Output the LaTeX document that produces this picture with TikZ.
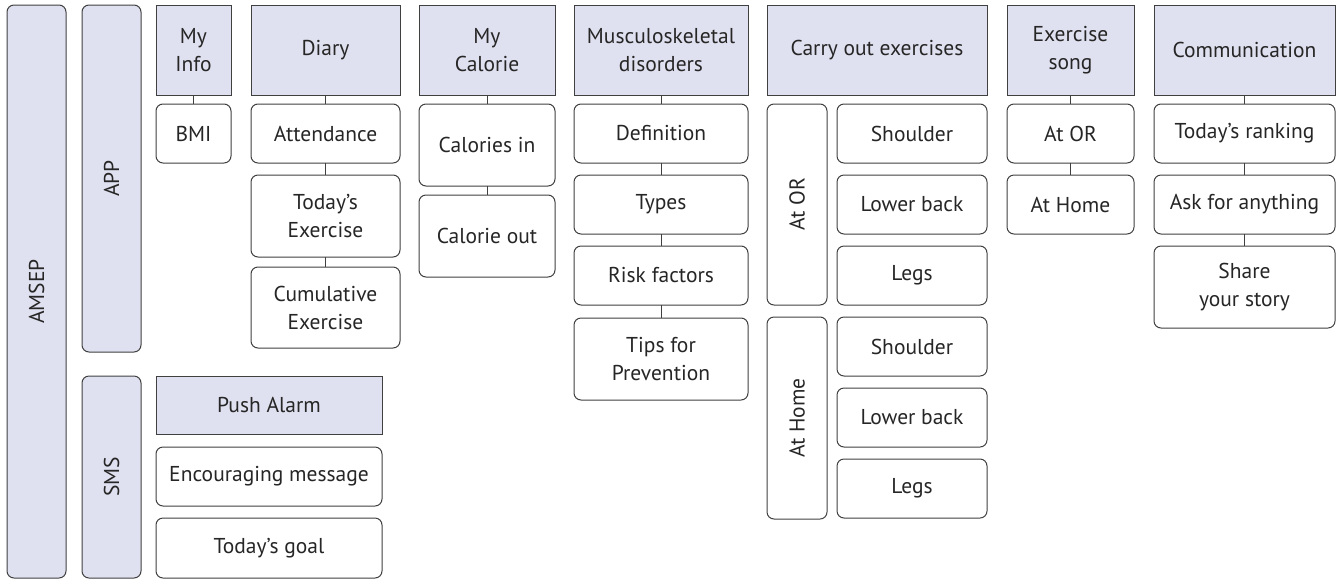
\documentclass[tikz,border=0pt]{standalone}
\usepackage{fontspec}
\setmainfont{PT Sans}
\definecolor{hdrfill}{HTML}{E0E1F0}
\definecolor{edgegray}{HTML}{404040}
\tikzset{
  base/.style={draw=edgegray,line width=1pt,inner sep=0pt,outer sep=0pt,align=center,
    font=\fontsize{21.5}{28}\selectfont,text=black!85},
  hdr/.style={base,rectangle,fill=hdrfill},
  leaf/.style={base,rectangle,rounded corners=7pt,fill=white},
  side/.style={base,rectangle,rounded corners=7pt,rotate=90},
  link/.style={draw=edgegray,line width=1pt}
}
\begin{document}
\begin{tikzpicture}[x=1pt,y=-1pt]
  \useasboundingbox (0,0) rectangle (1338,579);
  % left bars
  \node[side,fill=hdrfill,minimum width=573pt,minimum height=59pt] (amsep) at (36.5,291.5) {AMSEP};
  \node[side,fill=hdrfill,minimum width=347pt,minimum height=59pt] (app) at (111.5,178.5) {APP};
  \node[side,fill=hdrfill,minimum width=202pt,minimum height=59pt] (sms) at (111.5,477) {SMS};
  % My Info
  \node[hdr,minimum width=75pt,minimum height=90pt] (info) at (193.5,50) {My\\Info};
  \node[leaf,minimum width=75pt,minimum height=59pt] (bmi) at (193.5,133.5) {BMI};
  % Diary
  \node[hdr,minimum width=149pt,minimum height=90pt] (diary) at (325.5,50) {Diary};
  \node[leaf,minimum width=149pt,minimum height=59pt] (attend) at (325.5,133.5) {Attendance};
  \node[leaf,minimum width=149pt,minimum height=82pt] (todayex) at (325.5,216) {Today's\\Exercise};
  \node[leaf,minimum width=149pt,minimum height=81pt] (cumul) at (325.5,307.5) {Cumulative\\Exercise};
  % My Calorie
  \node[hdr,minimum width=136pt,minimum height=90pt] (calorie) at (487,50) {My\\Calorie};
  \node[leaf,minimum width=136pt,minimum height=82pt] (calin) at (487,145) {Calories in};
  \node[leaf,minimum width=136pt,minimum height=82pt] (calout) at (487,236) {Calorie out};
  % Musculoskeletal disorders
  \node[hdr,minimum width=174pt,minimum height=90pt] (msd) at (661,50) {Musculoskeletal\\disorders};
  \node[leaf,minimum width=174pt,minimum height=59pt] (defn) at (661,133.5) {Definition};
  \node[leaf,minimum width=174pt,minimum height=59pt] (types) at (661,204.5) {Types};
  \node[leaf,minimum width=174pt,minimum height=59pt] (risk) at (661,275.5) {Risk factors};
  \node[leaf,minimum width=174pt,minimum height=82pt] (tips) at (661,359) {Tips for\\Prevention};
  % Carry out exercises
  \node[hdr,minimum width=220pt,minimum height=90pt] (carry) at (877,50) {Carry out exercises};
  \node[side,minimum width=201pt,minimum height=60pt] (cor) at (797,204.5) {At OR};
  \node[side,minimum width=202pt,minimum height=60pt] (chome) at (797,418) {At Home};
  \node[leaf,minimum width=150pt,minimum height=59pt] (orsh) at (912,133.5) {Shoulder};
  \node[leaf,minimum width=150pt,minimum height=59pt] (orlb) at (912,204.5) {Lower back};
  \node[leaf,minimum width=150pt,minimum height=59pt] (orlg) at (912,275.5) {Legs};
  \node[leaf,minimum width=150pt,minimum height=59pt] (hmsh) at (912,346.5) {Shoulder};
  \node[leaf,minimum width=150pt,minimum height=59pt] (hmlb) at (912,417.5) {Lower back};
  \node[leaf,minimum width=150pt,minimum height=59pt] (hmlg) at (912,488.5) {Legs};
  % Exercise song
  \node[hdr,minimum width=127pt,minimum height=90pt] (song) at (1070.5,50) {Exercise\\song};
  \node[leaf,minimum width=127pt,minimum height=59pt] (songor) at (1070.5,133.5) {At OR};
  \node[leaf,minimum width=127pt,minimum height=59pt] (songhm) at (1070.5,204.5) {At Home};
  % Communication
  \node[hdr,minimum width=181pt,minimum height=90pt] (comm) at (1244.5,50) {Communication};
  \node[leaf,minimum width=181pt,minimum height=59pt] (rank) at (1244.5,133.5) {Today's ranking};
  \node[leaf,minimum width=181pt,minimum height=59pt] (ask) at (1244.5,204.5) {Ask for anything};
  \node[leaf,minimum width=181pt,minimum height=82pt] (story) at (1244.5,287) {Share\\your story};
  % SMS
  \node[hdr,minimum width=226pt,minimum height=58pt] (push) at (269,405) {Push Alarm};
  \node[leaf,minimum width=226pt,minimum height=59pt] (encour) at (269,476.5) {Encouraging message};
  \node[leaf,minimum width=226pt,minimum height=60pt] (goal) at (269,548) {Today's goal};
  % connectors
  \draw[link] (info) -- (bmi);
  \draw[link] (diary) -- (attend) (attend) -- (todayex) (todayex) -- (cumul);
  \draw[link] (calorie) -- (calin) (calin) -- (calout);
  \draw[link] (msd) -- (defn) (defn) -- (types) (types) -- (risk) (risk) -- (tips);
  \draw[link] (song) -- (songor) (songor) -- (songhm);
  \draw[link] (comm) -- (rank) (rank) -- (ask) (ask) -- (story);
\end{tikzpicture}
\end{document}
